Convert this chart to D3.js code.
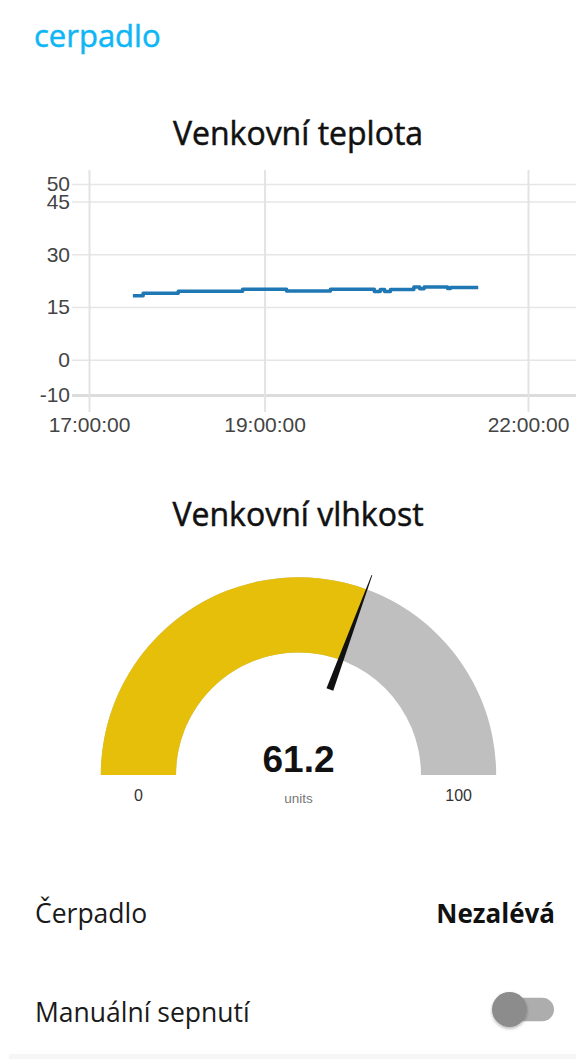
<!DOCTYPE html>
<html>
<head>
<meta charset="utf-8">
<script src="https://cdn.jsdelivr.net/npm/d3@7"></script>
<style>
body { margin: 0; background: #fff; }
svg text { font-family: "Open Sans", sans-serif; }
.tick text { font-family: "Liberation Sans", Arial, sans-serif; }
</style>
</head>
<body>
<svg id="page" width="576" height="1059"></svg>
<script>
// --- data ---
var groupName = "cerpadlo";
var chartTitle = "Venkovní teplota";
var gaugeTitle = "Venkovní vlhkost";

var tempTimes  = ["17:30","17:37","18:01","18:45","19:15","19:45","20:15","20:19","20:22","20:26","20:42","20:46","20:49","21:05","21:07","21:26"];
var tempValues = [18.2, 18.9, 19.5, 20.1, 19.6, 20.1, 19.4, 20.0, 19.4, 20.0, 20.7, 20.2, 20.7, 20.3, 20.6, 20.6];
var xDomain = ["17:00", "22:00"];
var xTicks  = ["17:00", "19:00", "22:00"];
var yDomain = [-10, 50];
var yTicks  = [-10, 0, 15, 30, 45, 50];

var humidity = 61.2;
var gaugeRange = [0, 100];
var gaugeUnits = "units";

var rowLabels = ["Čerpadlo", "Manuální sepnutí"];
var pumpState = "Nezalévá";
var switchOn = false;

// --- page ---
var svg = d3.select("#page");
var parseT = d3.timeParse("%H:%M");

var defs = svg.append("defs");
defs.append("filter").attr("id", "shadow")
	.attr("x", "-50%").attr("y", "-50%").attr("width", "200%").attr("height", "200%")
	.append("feDropShadow")
	.attr("dx", 0).attr("dy", 1.5).attr("stdDeviation", 1.5)
	.attr("flood-color", "#000").attr("flood-opacity", 0.3);

svg.append("text")
	.attr("x", 34).attr("y", 47)
	.attr("font-size", 31)
	.attr("fill", "#0fb6f6")
	.attr("stroke", "#0fb6f6").attr("stroke-width", 0.5)
	.text(groupName);

// --- line chart ---
svg.append("text")
	.attr("x", 298).attr("y", 145)
	.attr("text-anchor", "middle")
	.attr("font-size", 32)
	.attr("fill", "#111")
	.attr("stroke", "#111").attr("stroke-width", 0.5)
	.text(chartTitle);

var x = d3.scaleTime().domain(xDomain.map(parseT)).range([89, 528]);
var y = d3.scaleLinear().domain(yDomain).range([395, 184]);

var yAxis = d3.axisLeft(y)
	.tickValues(yTicks)
	.tickFormat(function(d){ return String(d); })
	.tickSizeInner(-(576 - 89))
	.tickSizeOuter(0)
	.tickPadding(19);
var gy = svg.append("g").attr("transform", "translate(89,0)").call(yAxis);
gy.select(".domain").remove();
gy.selectAll(".tick line")
	.attr("x1", -17)
	.attr("stroke", function(d){ return d == yDomain[0] ? "#dcdcdc" : "#e6e6e6"; })
	.attr("stroke-width", function(d){ return d == yDomain[0] ? 3 : 1.5; });
gy.selectAll(".tick text").attr("font-size", 21).attr("fill", "#444");

var xAxis = d3.axisBottom(x)
	.tickValues(xTicks.map(parseT))
	.tickFormat(d3.timeFormat("%H:%M:%S"))
	.tickSizeInner(-(395 - 170))
	.tickSizeOuter(0)
	.tickPadding(22);
var gx = svg.append("g").attr("transform", "translate(0,395)").call(xAxis);
gx.select(".domain").remove();
gx.selectAll(".tick line")
	.attr("y1", 17)
	.attr("stroke", "#e3e3e3")
	.attr("stroke-width", 2);
gx.selectAll(".tick text").attr("font-size", 21).attr("fill", "#444");

var series = tempTimes.map(function(t, i){ return {t: parseT(t), v: tempValues[i]}; });
var line = d3.line()
	.x(function(d){ return x(d.t); })
	.y(function(d){ return y(d.v); })
	.curve(d3.curveStepAfter);
svg.append("path")
	.datum(series)
	.attr("d", line)
	.attr("fill", "none")
	.attr("stroke", "#1f77b4")
	.attr("stroke-width", 3.5)
	.attr("stroke-linejoin", "round");

// --- gauge ---
svg.append("text")
	.attr("x", 298).attr("y", 526)
	.attr("text-anchor", "middle")
	.attr("font-size", 32)
	.attr("fill", "#111")
	.attr("stroke", "#111").attr("stroke-width", 0.5)
	.text(gaugeTitle);

var gc = {x: 298.5, y: 775};
var angle = d3.scaleLinear().domain(gaugeRange).range([-Math.PI/2, Math.PI/2]);
var arc = d3.arc().innerRadius(122.5).outerRadius(197.7);
var gauge = svg.append("g").attr("transform", "translate(" + gc.x + "," + gc.y + ")");

gauge.append("path")
	.attr("d", arc({startAngle: angle(gaugeRange[0]), endAngle: angle(gaugeRange[1])}))
	.attr("fill", "#bfbfbf");
gauge.append("path")
	.attr("d", arc({startAngle: angle(gaugeRange[0]), endAngle: angle(humidity)}))
	.attr("fill", "#e6bf0b");

gauge.append("path")
	.attr("d", "M-3.6,-91 L3.6,-91 L0.4,-213 L-0.4,-213 Z")
	.attr("transform", "rotate(" + (angle(humidity) * 180 / Math.PI) + ")")
	.attr("fill", "#111");

gauge.append("text")
	.attr("x", 0).attr("y", -3)
	.attr("text-anchor", "middle")
	.style("font-family", "'Liberation Sans', Arial, sans-serif")
	.attr("font-weight", "bold")
	.attr("font-size", 37)
	.attr("fill", "#111")
	.text(d3.format(".1f")(humidity));

var bandMid = (122.5 + 197.7) / 2;
gauge.selectAll(".minmax")
	.data(gaugeRange)
	.join("text")
	.attr("class", "minmax")
	.attr("x", function(d, i){ return i == 0 ? -bandMid : bandMid; })
	.attr("y", 26)
	.attr("text-anchor", "middle")
	.style("font-family", "'Liberation Sans', Arial, sans-serif")
	.attr("font-size", 16)
	.attr("fill", "#333")
	.text(function(d){ return d; });

gauge.append("text")
	.attr("x", 0).attr("y", 28)
	.attr("text-anchor", "middle")
	.style("font-family", "'Liberation Sans', Arial, sans-serif")
	.attr("font-size", 13.5)
	.attr("fill", "#777")
	.text(gaugeUnits);

// --- rows ---
svg.selectAll(".rowlabel")
	.data(rowLabels)
	.join("text")
	.attr("class", "rowlabel")
	.attr("x", 35)
	.attr("y", function(d, i){ return 923 + i * 99; })
	.attr("font-size", 26.5)
	.attr("fill", "#1a1a1a")
	.text(function(d){ return d; });

svg.append("text")
	.attr("x", 555).attr("y", 923)
	.attr("text-anchor", "end")
	.attr("font-weight", "bold")
	.attr("font-size", 26)
	.attr("fill", "#111")
	.text(pumpState);

var sw = svg.append("g").attr("transform", "translate(0,1009.5)");
sw.append("rect")
	.attr("x", 498).attr("y", -11.7)
	.attr("width", 56).attr("height", 23.4)
	.attr("rx", 11.7)
	.attr("fill", "#adadad");
sw.append("circle")
	.attr("cx", switchOn ? 543 : 509.5).attr("cy", 0)
	.attr("r", 17.5)
	.attr("fill", "#8c8c8c")
	.attr("filter", "url(#shadow)");

svg.append("rect")
	.attr("x", 9).attr("y", 1054)
	.attr("width", 567).attr("height", 5)
	.attr("fill", "#f6f6f6");
</script>
</body>
</html>
